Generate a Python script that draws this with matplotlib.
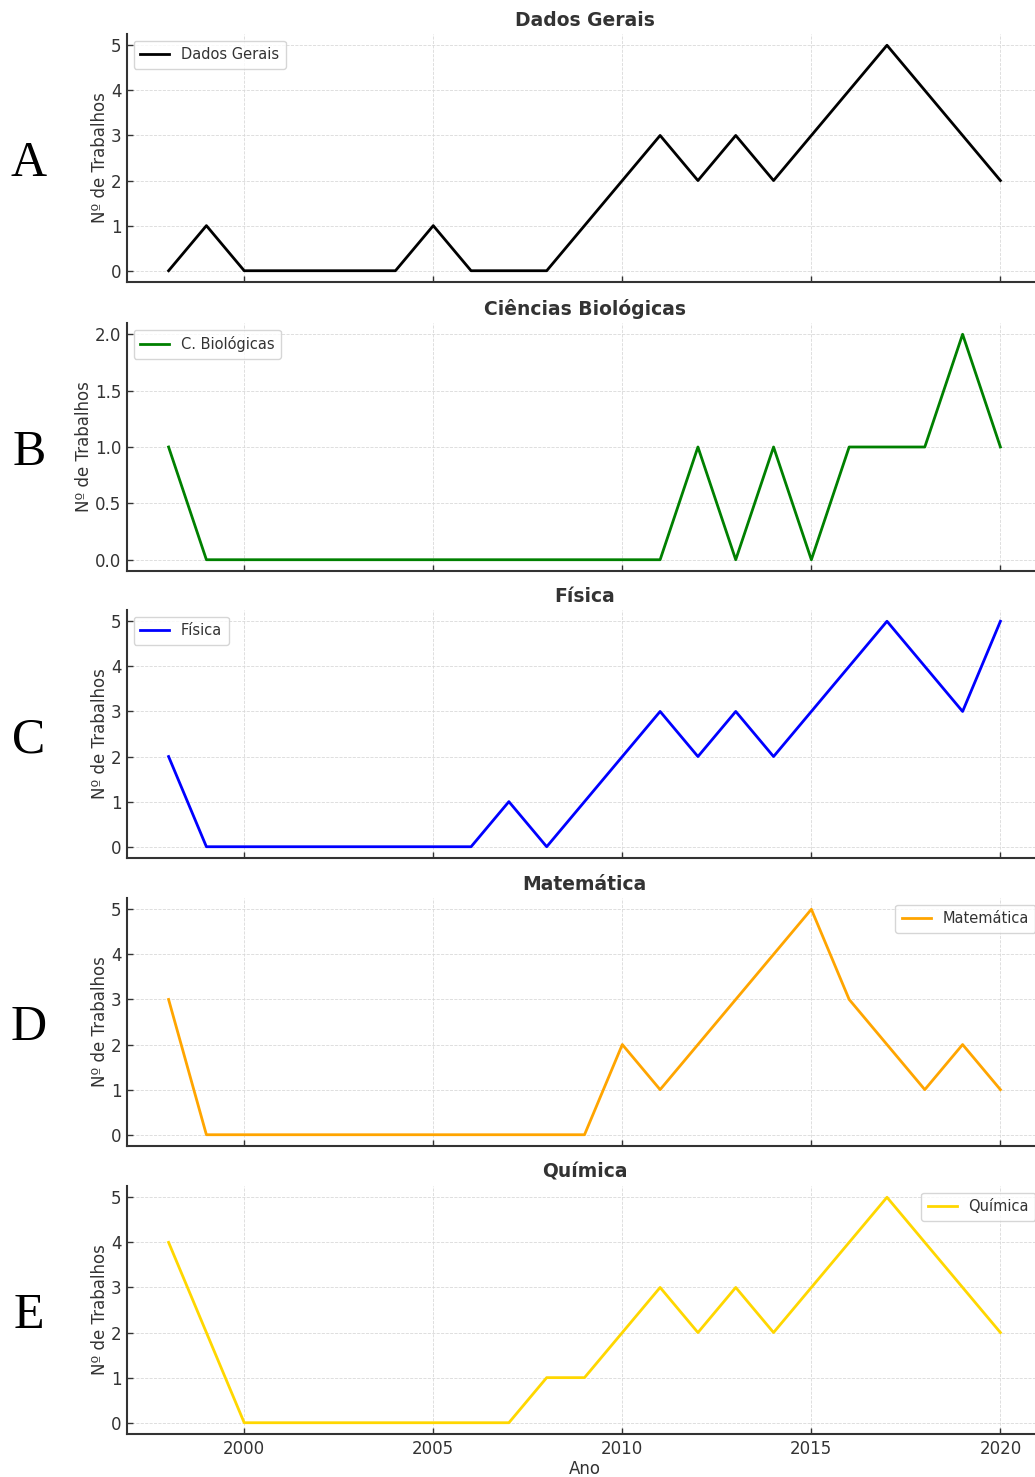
import matplotlib.pyplot as plt

years = list(range(1998, 2021))

gerais = [0, 1, 0, 0, 0, 0, 0, 1, 0, 0, 0, 1, 2, 3, 2, 3, 2, 3, 4, 5, 4, 3, 2]
biologicas = [1, 0, 0, 0, 0, 0, 0, 0, 0, 0, 0, 0, 0, 0, 1, 0, 1, 0, 1, 1, 1, 2, 1]
fisica = [2, 0, 0, 0, 0, 0, 0, 0, 0, 1, 0, 1, 2, 3, 2, 3, 2, 3, 4, 5, 4, 3, 5]
matematica = [3, 0, 0, 0, 0, 0, 0, 0, 0, 0, 0, 0, 2, 1, 2, 3, 4, 5, 3, 2, 1, 2, 1]
quimica = [4, 2, 0, 0, 0, 0, 0, 0, 0, 0, 1, 1, 2, 3, 2, 3, 2, 3, 4, 5, 4, 3, 2]

panels = [
    ("A", "Dados Gerais", "Dados Gerais", gerais, "black", "upper left"),
    ("B", "Ciências Biológicas", "C. Biológicas", biologicas, "green", "upper left"),
    ("C", "Física", "Física", fisica, "blue", "upper left"),
    ("D", "Matemática", "Matemática", matematica, "orange", "upper right"),
    ("E", "Química", "Química", quimica, "gold", "upper right"),
]

W, H = 1035, 1477
fig = plt.figure(figsize=(W / 100, H / 100), dpi=100)

text_col = "#333333"
left_px, right_px = 127, 1042
tops = [34, 323, 610, 898, 1186]
ax_h = 248

for i, (letter, title, lab, vals, col, loc) in enumerate(panels):
    top = tops[i]
    ax = fig.add_axes([left_px / W, 1 - (top + ax_h) / H,
                       (right_px - left_px) / W, ax_h / H])
    ax.plot(years, vals, color=col, linewidth=2, label=lab)
    ax.set_xlim(1996.9, 2021.1)
    ax.set_xticks([2000, 2005, 2010, 2015, 2020])
    ax.grid(True, linestyle="--", color="#d9d9d9", linewidth=0.6)
    ax.set_axisbelow(True)
    for s in ["top", "right"]:
        ax.spines[s].set_visible(False)
    for s in ["left", "bottom"]:
        ax.spines[s].set_color("#333333")
        ax.spines[s].set_linewidth(1.5)
    ax.tick_params(axis="both", direction="in", labelsize=12, colors=text_col,
                   length=4, width=1, pad=4)
    ax.set_title(title, fontsize=13.5, fontweight="bold", color=text_col, pad=6)
    ax.set_ylabel("Nº de Trabalhos", fontsize=12, color=text_col, labelpad=1.5)
    leg = ax.legend(loc=loc, fontsize=10.5, frameon=True, fancybox=True,
                    borderaxespad=0.45, handlelength=2.0, borderpad=0.45)
    leg.get_frame().set_edgecolor("#cccccc")
    for t in leg.get_texts():
        t.set_color(text_col)
    if i < 4:
        ax.set_xticklabels([])
    else:
        ax.set_xlabel("Ano", fontsize=12, color=text_col, labelpad=2)
    fig.text(29 / W, 1 - (top + ax_h / 2 + 6) / H, letter, fontsize=36,
             family="Liberation Serif", ha="center", va="center")

fig.savefig("out.png", dpi=100)
